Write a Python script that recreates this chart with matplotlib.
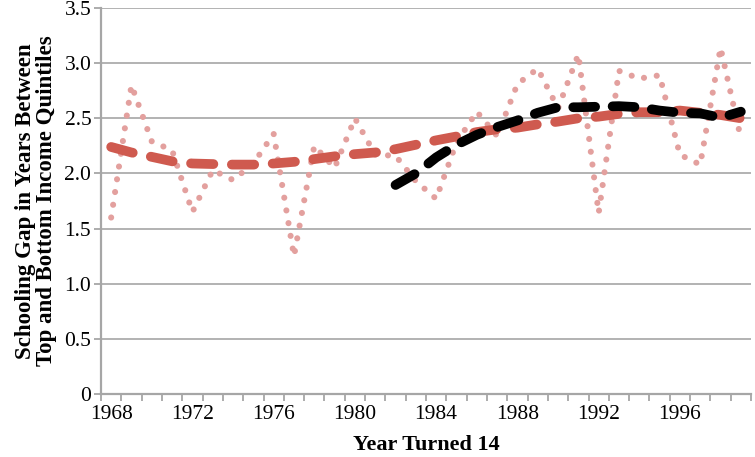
import numpy as np
import matplotlib
matplotlib.use('Agg')
import matplotlib.pyplot as plt

# years on the category axis
years = np.arange(1968, 2000)

# raw gap (dotted pink)
gap_raw = [1.60, 2.80, 2.29, 2.21, 1.65, 2.03, 1.94, 2.09, 2.36, 1.25,
           2.25, 2.05, 2.50, 2.17, 2.16, 1.93, 1.77, 2.28, 2.56, 2.34,
           2.81, 2.95, 2.59, 3.08, 1.64, 2.93, 2.86, 2.89, 2.17, 2.08,
           3.14, 2.32]

# smoothed trend (red dashed)
gap_trend = [2.24, 2.19, 2.15, 2.11, 2.09, 2.085, 2.08, 2.08, 2.09, 2.105,
             2.13, 2.155, 2.175, 2.19, 2.22, 2.26, 2.30, 2.335, 2.375, 2.40,
             2.415, 2.445, 2.47, 2.50, 2.515, 2.54, 2.555, 2.555, 2.57, 2.55,
             2.53, 2.50]

# later trend (black dashed), 1982 onward
late_years = np.arange(1982, 2000)
gap_late = [1.895, 2.00, 2.145, 2.26, 2.35, 2.42, 2.48, 2.55, 2.60, 2.60,
            2.605, 2.61, 2.60, 2.57, 2.55, 2.545, 2.505, 2.56]

y_ticks = [0, 0.5, 1.0, 1.5, 2.0, 2.5, 3.0, 3.5]
y_labels = ['0', '0.5', '1.0', '1.5', '2.0', '2.5', '3.0', '3.5']
x_label_years = [1968, 1972, 1976, 1980, 1984, 1988, 1992, 1996]

plt.rcParams['font.family'] = ['Liberation Serif', 'DejaVu Serif']

fig = plt.figure(figsize=(7.55, 4.57), dpi=100)
ax = fig.add_axes([101/755, 1 - 394/457, 650/755, 386/457])

grey = '#a6a6a6'
for v in y_ticks[1:]:
    ax.axhline(v, color=grey, lw=1.2, zorder=1)

ax.plot(years, gap_raw, color='#e3a09e', lw=4.4,
        linestyle=(0, (0.01, 2.1)), dash_capstyle='round', zorder=2)
ax.plot(years, gap_trend, color='#cf5a4f', lw=7.0,
        linestyle=(0, (2.3, 1.9)), dash_capstyle='round', zorder=3)
ax.plot(late_years, gap_late, color='black', lw=7.0,
        linestyle=(0, (2.25, 1.8)), dash_capstyle='round', zorder=4)

ax.set_xlim(1967.5, 1999.5)
ax.set_ylim(0, 3.5)

ax.set_xticks(np.arange(1967.5, 2000, 1.0))
ax.set_xticklabels([])
ax.set_xticks(x_label_years, minor=True)
ax.set_xticklabels([str(y) for y in x_label_years], minor=True, fontsize=15.5)
ax.tick_params(axis='x', which='major', length=5, width=1.3, color=grey, direction='out')
ax.tick_params(axis='x', which='minor', length=0, pad=8)

ax.set_yticks(y_ticks)
ax.set_yticklabels(y_labels, fontsize=15.5)
ax.tick_params(axis='y', length=5, width=1.3, color=grey, direction='out', pad=2)

for s in ['top', 'right']:
    ax.spines[s].set_visible(False)
for s in ['left', 'bottom']:
    ax.spines[s].set_color(grey)
    ax.spines[s].set_linewidth(1.6)

ax.set_xlabel('Year Turned 14', fontsize=16, fontweight='bold', labelpad=8)
ax.set_ylabel('Schooling Gap in Years Between\nTop and Bottom Income Quintiles',
              fontsize=16.5, fontweight='bold', labelpad=5, linespacing=1.05)

fig.savefig('out.png', dpi=100)
